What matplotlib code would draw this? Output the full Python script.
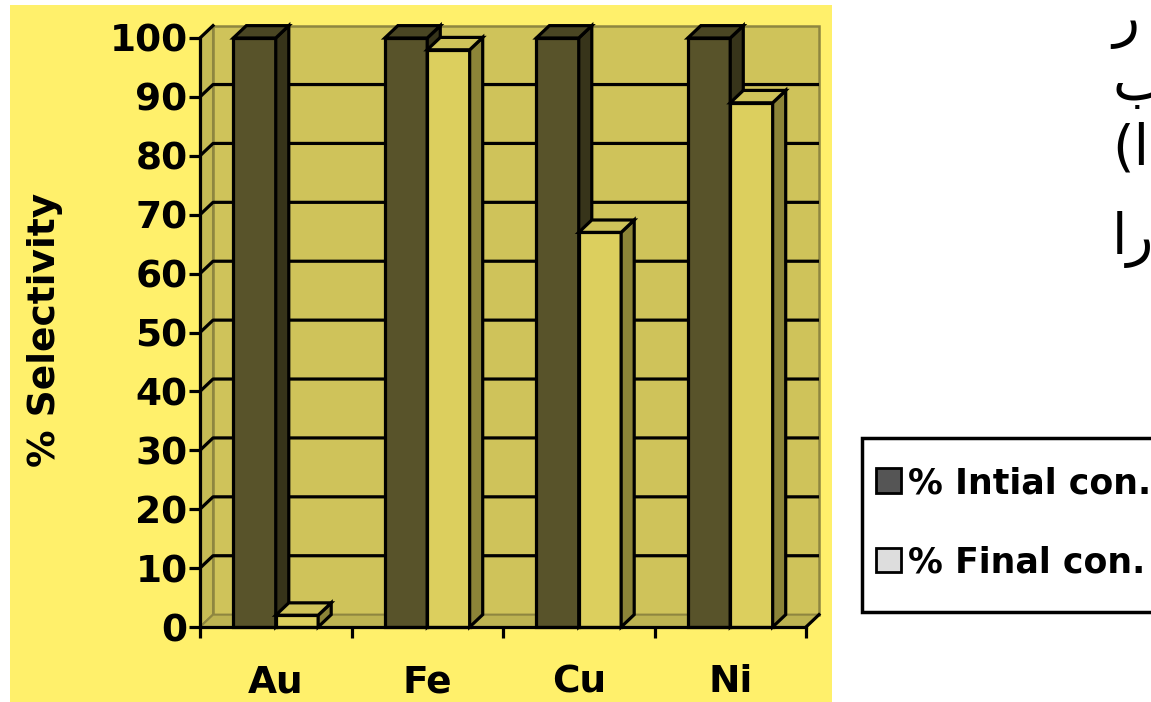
import matplotlib
matplotlib.use("Agg")
import matplotlib.pyplot as plt
from matplotlib.patches import Polygon, Rectangle, Patch

# data
metals = ["Au", "Fe", "Cu", "Ni"]
initial_con = [100, 100, 100, 100]
final_con = [2, 98, 67, 89]
yticks = [0, 10, 20, 30, 40, 50, 60, 70, 80, 90, 100]
legend_labels = ["% Intial con.", "% Final con."]
side_text = ["ر", "ب", "(ا)", "ار"]

W, H = 1151, 702
plt.rcParams['font.family'] = ['DejaVu Sans']
fig = plt.figure(figsize=(W / 100, H / 100), dpi=100)

# yellow panel behind the chart
fig.patches.append(Rectangle((10 / W, 0), (832 - 10) / W, (702 - 5) / H,
                             transform=fig.transFigure, fc="#FFF06B", ec="none", zorder=-5))

ax = fig.add_axes([200 / W, (H - 627) / H, 606 / W, 589 / H])
ax.set_xlim(0, 4)
ax.set_ylim(0, 100)
ax.patch.set_visible(False)

dx, dy = 0.086, 2.1   # 3d depth offsets in data units
lw = 2.3
wall = "#CFC35A"
edge = "#8E8640"

# walls
ax.add_patch(Polygon([(dx, dy), (4 + dx, dy), (4 + dx, 100 + dy), (dx, 100 + dy)],
                     closed=True, fc=wall, ec=edge, lw=1.8, zorder=0, clip_on=False))
ax.add_patch(Polygon([(0, 0), (dx, dy), (dx, 100 + dy), (0, 100)],
                     closed=True, fc="#C6BB55", ec=edge, lw=1.5, zorder=0, clip_on=False))
ax.add_patch(Polygon([(0, 0), (4, 0), (4 + dx, dy), (dx, dy)],
                     closed=True, fc="#BDB352", ec=edge, lw=1.5, zorder=0, clip_on=False))
ax.plot([4, 4 + dx], [0, dy], color="black", lw=lw, zorder=1, clip_on=False)

# gridlines on the back wall
for t in yticks[1:-1]:
    ax.plot([0, dx, 4 + dx], [t, t + dy, t + dy], color="black", lw=lw, zorder=1,
            clip_on=False, solid_capstyle="butt")
ax.plot([0, dx], [100, 100 + dy], color="black", lw=lw, zorder=1, clip_on=False)

w = 0.28
centers = [i + 0.5 for i in range(len(metals))]
series = [
    (initial_con, -w / 2, "#58532A", "#37341A", "#4A4623"),
    (final_con, w / 2, "#DCCF5E", "#8C8438", "#CFC35A"),
]
z = 3
for i, c in enumerate(centers):
    for vals, off, front, side, top in series:
        v = vals[i]
        bar = ax.bar(c + off, v, width=w, color=front, edgecolor="black", linewidth=lw,
                     zorder=z, clip_on=False)[0]
        x0, x1 = bar.get_x(), bar.get_x() + bar.get_width()
        ax.add_patch(Polygon([(x1, 0), (x1 + dx, dy), (x1 + dx, v + dy), (x1, v)], closed=True,
                             fc=side, ec="black", lw=lw, zorder=z, clip_on=False, joinstyle="miter"))
        ax.add_patch(Polygon([(x0, v), (x0 + dx, v + dy), (x1 + dx, v + dy), (x1, v)], closed=True,
                             fc=top, ec="black", lw=lw, zorder=z, clip_on=False, joinstyle="miter"))
        z += 1

# axes
for s in ["top", "right"]:
    ax.spines[s].set_visible(False)
for s in ["left", "bottom"]:
    ax.spines[s].set_linewidth(lw)
    ax.spines[s].set_zorder(20)
ax.set_yticks(yticks)
ax.set_yticklabels([str(t) for t in yticks], fontsize=27, fontweight="bold")
ax.tick_params(axis="y", length=8, width=lw, pad=1)
ax.set_xticks([0, 1, 2, 3, 4])
ax.set_xticklabels([])
ax.tick_params(axis="x", which="major", length=8, width=lw)
ax.set_xticks(centers, minor=True)
ax.set_xticklabels(metals, minor=True, fontsize=27, fontweight="bold")
ax.tick_params(axis="x", which="minor", length=0, pad=27)
ax.set_ylabel("% Selectivity", fontsize=27, fontweight="bold")
ax.yaxis.set_label_coords(-0.226, 0.505)

# legend: frame drawn separately, running off the right edge like the reference
fig.patches.append(Rectangle((862 / W, 1 - 612 / H), (1170 - 862) / W, (612 - 438) / H,
                             transform=fig.transFigure, fc="white", ec="black", lw=2.5, zorder=1))
handles = [Patch(fc="#555555", ec="black", lw=2), Patch(fc="#DDDDDD", ec="black", lw=2)]
leg = fig.legend(handles, legend_labels, loc="upper left",
                 bbox_to_anchor=(876 / W, 1 - 466 / H), frameon=False, borderaxespad=0,
                 prop={"size": 25, "weight": "bold"}, handlelength=0.72, handleheight=0.72,
                 handletextpad=0.2, labelspacing=1.3, borderpad=0)
leg.set_zorder(5)

# cut-off Arabic text at the right edge
for s, y in zip(side_text, [22, 85, 150, 240]):
    fig.text(1112 / W, 1 - y / H, s, fontsize=40, ha="left", va="center", family="DejaVu Sans")

fig.savefig("out.png", dpi=100)
